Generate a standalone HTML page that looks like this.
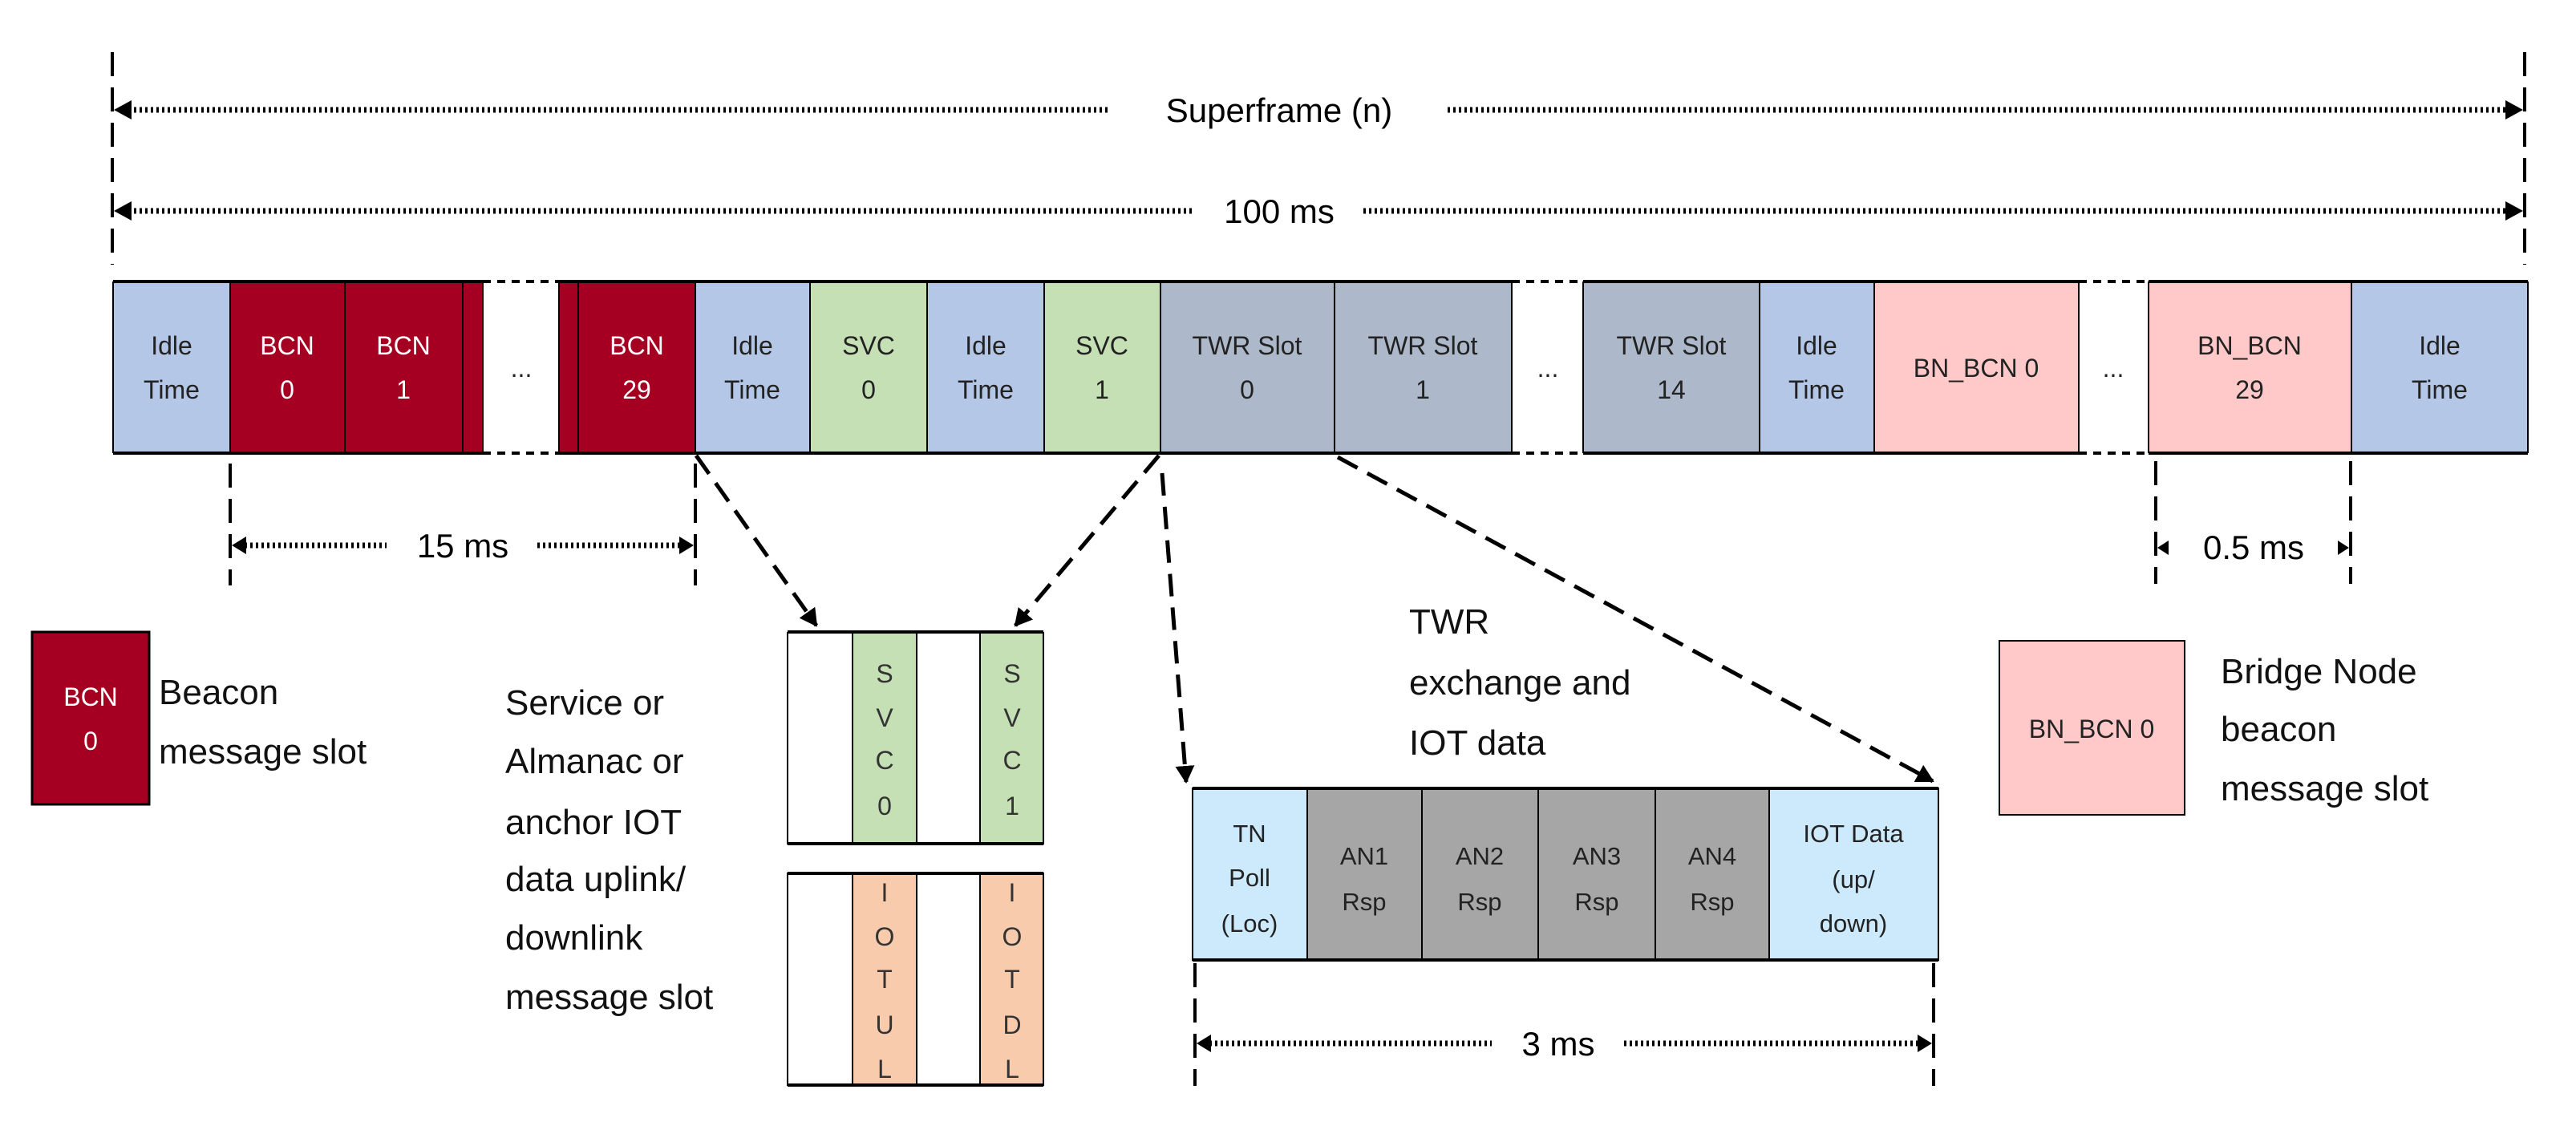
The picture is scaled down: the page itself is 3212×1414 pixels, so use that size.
<!DOCTYPE html>
<html><head><meta charset="utf-8"><style>
html,body{margin:0;padding:0;background:#fff;}
svg{display:block;}
text{font-family:"Liberation Sans",sans-serif;}
</style></head><body>
<svg width="3212" height="1414" viewBox="0 0 3212 1414" xmlns="http://www.w3.org/2000/svg">
<defs>
<marker id="ah" markerWidth="8" markerHeight="8" refX="7" refY="4" orient="auto" markerUnits="userSpaceOnUse" viewBox="0 0 8 8"><path d="M0,0 L8,4 L0,8 z" fill="#000"/></marker>
<marker id="big" markerWidth="26" markerHeight="22" refX="24" refY="11" orient="auto" markerUnits="userSpaceOnUse"><path d="M0,0 L26,11 L0,22 z" fill="#000"/></marker>
<marker id="da" markerWidth="22" markerHeight="24" refX="20" refY="12" orient="auto" markerUnits="userSpaceOnUse"><path d="M0,0 L22,12 L0,24 z" fill="#000"/></marker>
</defs>

<!-- top dimension lines -->
<g stroke="#000" stroke-width="4" stroke-dasharray="30,14">
<line x1="140" y1="65" x2="140" y2="330"/>
<line x1="3148" y1="65" x2="3148" y2="330"/>
</g>
<g stroke="#000" stroke-width="7" stroke-dasharray="3,4">
<line x1="160" y1="137" x2="1385" y2="137"/>
<line x1="1805" y1="137" x2="3128" y2="137"/>
<line x1="160" y1="263" x2="1490" y2="263"/>
<line x1="1700" y1="263" x2="3128" y2="263"/>
</g>
<g fill="#000">
<path d="M142,137 L164,125 L164,149 z"/><path d="M3146,137 L3124,125 L3124,149 z"/>
<path d="M142,263 L164,251 L164,275 z"/><path d="M3146,263 L3124,251 L3124,275 z"/>
</g>
<text x="1595" y="152" font-size="42" text-anchor="middle">Superframe (n)</text>
<text x="1595" y="278" font-size="42" text-anchor="middle">100 ms</text>

<!-- main bar -->
<g stroke="#000" stroke-width="2">
<rect x="141" y="352" width="146" height="212" fill="#b4c7e7"/>
<rect x="287" y="352" width="143" height="212" fill="#a50021"/>
<rect x="430" y="352" width="147" height="212" fill="#a50021"/>
<rect x="577" y="352" width="25" height="212" fill="#a50021"/>
<rect x="697" y="352" width="24" height="212" fill="#a50021"/>
<rect x="721" y="352" width="146" height="212" fill="#a50021"/>
<rect x="867" y="352" width="143" height="212" fill="#b4c7e7"/>
<rect x="1010" y="352" width="146" height="212" fill="#c5e0b4"/>
<rect x="1156" y="352" width="146" height="212" fill="#b4c7e7"/>
<rect x="1302" y="352" width="145" height="212" fill="#c5e0b4"/>
<rect x="1447" y="352" width="217" height="212" fill="#adb9ca"/>
<rect x="1664" y="352" width="221" height="212" fill="#adb9ca"/>
<rect x="1974" y="352" width="220" height="212" fill="#adb9ca"/>
<rect x="2194" y="352" width="143" height="212" fill="#b4c7e7"/>
<rect x="2337" y="352" width="255" height="212" fill="#ffc9c9"/>
<rect x="2679" y="352" width="253" height="212" fill="#ffc9c9"/>
<rect x="2932" y="352" width="220" height="212" fill="#b4c7e7"/>
</g>
<g stroke="#000" stroke-width="2" stroke-dasharray="10,6">
<line x1="602" y1="352" x2="602" y2="564"/><line x1="697" y1="352" x2="697" y2="564"/>
<line x1="1885" y1="352" x2="1885" y2="564"/><line x1="1974" y1="352" x2="1974" y2="564"/>
<line x1="2592" y1="352" x2="2592" y2="564"/><line x1="2679" y1="352" x2="2679" y2="564"/>
</g>
<g stroke="#000" stroke-width="4">
<line x1="141" y1="351" x2="602" y2="351"/><line x1="697" y1="351" x2="1885" y2="351"/>
<line x1="1974" y1="351" x2="2592" y2="351"/><line x1="2679" y1="351" x2="3152" y2="351"/>
<line x1="141" y1="565" x2="602" y2="565"/><line x1="697" y1="565" x2="1885" y2="565"/>
<line x1="1974" y1="565" x2="2592" y2="565"/><line x1="2679" y1="565" x2="3152" y2="565"/>
</g>
<g stroke="#000" stroke-width="4" stroke-dasharray="10,8">
<line x1="602" y1="351" x2="697" y2="351"/><line x1="602" y1="565" x2="697" y2="565"/>
<line x1="1885" y1="351" x2="1974" y2="351"/><line x1="1885" y1="565" x2="1974" y2="565"/>
<line x1="2592" y1="351" x2="2679" y2="351"/><line x1="2592" y1="565" x2="2679" y2="565"/>
</g>
<g font-size="32" text-anchor="middle" fill="#222">
<text x="214" y="442">Idle</text><text x="214" y="497">Time</text>
<text x="938" y="442">Idle</text><text x="938" y="497">Time</text>
<text x="1229" y="442">Idle</text><text x="1229" y="497">Time</text>
<text x="1083" y="442">SVC</text><text x="1083" y="497">0</text>
<text x="1374" y="442">SVC</text><text x="1374" y="497">1</text>
<text x="1555" y="442">TWR Slot</text><text x="1555" y="497">0</text>
<text x="1774" y="442">TWR Slot</text><text x="1774" y="497">1</text>
<text x="2084" y="442">TWR Slot</text><text x="2084" y="497">14</text>
<text x="2265" y="442">Idle</text><text x="2265" y="497">Time</text>
<text x="2464" y="470">BN_BCN 0</text>
<text x="2805" y="442">BN_BCN</text><text x="2805" y="497">29</text>
<text x="3042" y="442">Idle</text><text x="3042" y="497">Time</text>
<text x="650" y="470">...</text><text x="1930" y="470">...</text><text x="2635" y="470">...</text>
</g>
<g font-size="32" text-anchor="middle" fill="#fff">
<text x="358" y="442">BCN</text><text x="358" y="497">0</text>
<text x="503" y="442">BCN</text><text x="503" y="497">1</text>
<text x="794" y="442">BCN</text><text x="794" y="497">29</text>
</g>

<!-- 15 ms / 0.5 ms -->
<g stroke="#000" stroke-width="4" stroke-dasharray="30,14">
<line x1="287" y1="578" x2="287" y2="730"/><line x1="867" y1="578" x2="867" y2="730"/>
<line x1="2688" y1="575" x2="2688" y2="728"/><line x1="2931" y1="575" x2="2931" y2="728"/>
<line x1="1490" y1="1201" x2="1490" y2="1354"/><line x1="2411" y1="1201" x2="2411" y2="1354"/>
</g>
<g stroke="#000" stroke-width="7" stroke-dasharray="3,4">
<line x1="305" y1="680" x2="482" y2="680"/><line x1="670" y1="680" x2="850" y2="680"/>
<line x1="1508" y1="1301" x2="1860" y2="1301"/><line x1="2025" y1="1301" x2="2393" y2="1301"/>
</g>
<g fill="#000">
<path d="M289,680 L307,669 L307,691 z"/><path d="M865,680 L847,669 L847,691 z"/>
<path d="M1492,1301 L1510,1290 L1510,1312 z"/><path d="M2409,1301 L2391,1290 L2391,1312 z"/>
<path d="M2690,683 L2704,674 L2704,692 z"/><path d="M2929,683 L2915,674 L2915,692 z"/>
</g>
<text x="577" y="695" font-size="42" text-anchor="middle">15 ms</text>
<text x="2810" y="697" font-size="42" text-anchor="middle">0.5 ms</text>
<text x="1943" y="1316" font-size="42" text-anchor="middle">3 ms</text>

<!-- dashed connectors -->
<g stroke="#000" stroke-width="5" stroke-dasharray="28,14" fill="none">
<line x1="868" y1="568" x2="1018" y2="780" marker-end="url(#da)"/>
<line x1="1445" y1="568" x2="1266" y2="780" marker-end="url(#da)"/>
<line x1="1449" y1="590" x2="1479" y2="975" marker-end="url(#da)"/>
<line x1="1668" y1="570" x2="2410" y2="974" marker-end="url(#da)"/>
</g>

<!-- BCN legend -->
<rect x="40" y="788" width="146" height="215" fill="#a50021" stroke="#000" stroke-width="3"/>
<text x="113" y="880" font-size="32" fill="#fff" text-anchor="middle">BCN</text>
<text x="113" y="935" font-size="32" fill="#fff" text-anchor="middle">0</text>
<g font-size="44" fill="#111">
<text x="198" y="878">Beacon</text>
<text x="198" y="952">message slot</text>
<text x="630" y="891">Service or</text>
<text x="630" y="964">Almanac or</text>
<text x="630" y="1040">anchor IOT</text>
<text x="630" y="1111">data uplink/</text>
<text x="630" y="1184">downlink</text>
<text x="630" y="1258">message slot</text>
<text x="1757" y="790">TWR</text>
<text x="1757" y="866">exchange and</text>
<text x="1757" y="941">IOT data</text>
<text x="2769" y="852">Bridge Node</text>
<text x="2769" y="924">beacon</text>
<text x="2769" y="998">message slot</text>
</g>

<!-- SVC box -->
<g stroke="#000" stroke-width="2">
<rect x="982" y="789" width="81" height="263" fill="#fff"/>
<rect x="1063" y="789" width="80" height="263" fill="#c5e0b4"/>
<rect x="1143" y="789" width="79" height="263" fill="#fff"/>
<rect x="1222" y="789" width="79" height="263" fill="#c5e0b4"/>
<rect x="982" y="1089" width="81" height="264" fill="#fff"/>
<rect x="1063" y="1089" width="80" height="264" fill="#f8cbad"/>
<rect x="1143" y="1089" width="79" height="264" fill="#fff"/>
<rect x="1222" y="1089" width="79" height="264" fill="#f8cbad"/>
</g>
<g stroke="#000" stroke-width="4">
<line x1="982" y1="788" x2="1301" y2="788"/><line x1="982" y1="1052" x2="1301" y2="1052"/>
<line x1="982" y1="1089" x2="1301" y2="1089"/><line x1="982" y1="1353" x2="1301" y2="1353"/>
</g>
<g font-size="32" text-anchor="middle" fill="#333">
<text x="1103" y="851">S</text><text x="1103" y="906">V</text><text x="1103" y="959">C</text><text x="1103" y="1016">0</text>
<text x="1262" y="851">S</text><text x="1262" y="906">V</text><text x="1262" y="959">C</text><text x="1262" y="1016">1</text>
<text x="1103" y="1124">I</text><text x="1103" y="1179">O</text><text x="1103" y="1232">T</text><text x="1103" y="1289">U</text><text x="1103" y="1344">L</text>
<text x="1262" y="1124">I</text><text x="1262" y="1179">O</text><text x="1262" y="1232">T</text><text x="1262" y="1289">D</text><text x="1262" y="1344">L</text>
</g>

<!-- TWR detail -->
<g stroke="#000" stroke-width="2">
<rect x="1487" y="983" width="143" height="214" fill="#cdeafc"/>
<rect x="1630" y="983" width="143" height="214" fill="#a6a6a6"/>
<rect x="1773" y="983" width="145" height="214" fill="#a6a6a6"/>
<rect x="1918" y="983" width="146" height="214" fill="#a6a6a6"/>
<rect x="2064" y="983" width="142" height="214" fill="#a6a6a6"/>
<rect x="2206" y="983" width="211" height="214" fill="#cdeafc"/>
</g>
<g stroke="#000" stroke-width="4">
<line x1="1487" y1="983" x2="2417" y2="983"/><line x1="1487" y1="1197" x2="2417" y2="1197"/>
</g>
<g font-size="31" text-anchor="middle" fill="#222">
<text x="1558" y="1050">TN</text><text x="1558" y="1105">Poll</text><text x="1558" y="1162">(Loc)</text>
<text x="1701" y="1078">AN1</text><text x="1701" y="1135">Rsp</text>
<text x="1845" y="1078">AN2</text><text x="1845" y="1135">Rsp</text>
<text x="1991" y="1078">AN3</text><text x="1991" y="1135">Rsp</text>
<text x="2135" y="1078">AN4</text><text x="2135" y="1135">Rsp</text>
<text x="2311" y="1050">IOT Data</text><text x="2311" y="1107">(up/</text><text x="2311" y="1162">down)</text>
</g>

<!-- BN legend -->
<rect x="2493" y="799" width="231" height="217" fill="#ffc9c9" stroke="#000" stroke-width="2"/>
<text x="2608" y="920" font-size="32" text-anchor="middle" fill="#222">BN_BCN 0</text>
</svg>
</body></html>
